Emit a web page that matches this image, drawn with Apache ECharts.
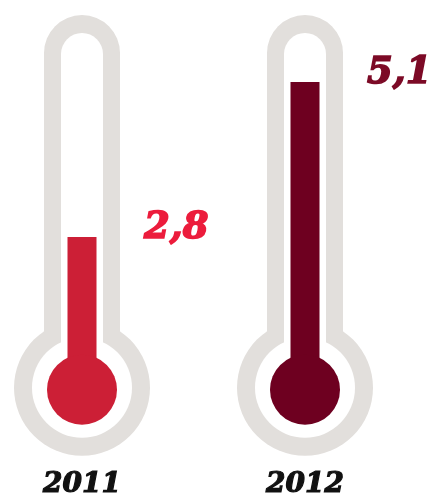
<!DOCTYPE html>
<html>
<head>
<meta charset="utf-8">
<script src="https://cdn.jsdelivr.net/npm/echarts@6/dist/echarts.min.js"></script>
<style>html,body{margin:0;padding:0;background:#fff;}#chart{width:431px;height:500px;}</style>
</head>
<body>
<div id="chart"></div>
<script>
const years = ['2011', '2012'];
const values = [2.8, 5.1];
const mercuryColors = ['#cc1f36', '#6e0020'];
const labelColors = ['#ec1c3c', '#7c0a26'];

const chart = echarts.init(document.getElementById('chart'));
const GRAY = '#e2dfdc';
const FONT = '"DejaVu Serif", "Liberation Serif", serif';

function renderItem(params, api) {
  const idx = api.value(0);
  const val = api.value(1);
  const base = api.coord([idx, 0]);
  const top = api.coord([idx, val]);
  const cx = base[0];
  const bulbY = base[1] - 38;
  const tubeTop = 15;
  const children = [
    { type: 'circle', shape: { cx: cx, cy: bulbY, r: 68 }, style: { fill: GRAY } },
    { type: 'rect', shape: { x: cx - 38, y: tubeTop, width: 76, height: bulbY - tubeTop, r: [38, 38, 0, 0] }, style: { fill: GRAY } },
    { type: 'circle', shape: { cx: cx, cy: bulbY, r: 50 }, style: { fill: '#fff' } },
    { type: 'rect', shape: { x: cx - 21, y: tubeTop + 18, width: 42, height: bulbY - tubeTop - 18, r: [21, 21, 0, 0] }, style: { fill: '#fff' } },
    { type: 'rect', shape: { x: cx - 14.5, y: top[1], width: 29, height: bulbY - top[1] }, style: { fill: mercuryColors[idx] } },
    { type: 'circle', shape: { cx: cx, cy: bulbY + 2, r: 35 }, style: { fill: mercuryColors[idx] } },
    { type: 'text', x: cx + 62, y: top[1] - 9, style: {
        text: val.toFixed(1).replace('.', ','), fill: labelColors[idx],
        stroke: labelColors[idx], lineWidth: 1.6,
        font: 'italic bold 37px ' + FONT, verticalAlign: 'middle', align: 'left' } }
  ];
  return { type: 'group', children: children };
}

chart.setOption({
  animation: false,
  grid: { left: 82, right: 126, top: 21.4, bottom: 74.3 },
  xAxis: {
    type: 'category', data: years, boundaryGap: false,
    axisLine: { show: false }, axisTick: { show: false }, splitLine: { show: false },
    axisLabel: { margin: 45, color: '#111', fontFamily: FONT, fontStyle: 'italic', fontWeight: 'bold', fontSize: 28, verticalAlign: 'top', textBorderColor: '#111', textBorderWidth: 1.2 }
  },
  yAxis: { type: 'value', min: 0, max: 6, show: false, splitLine: { show: false } },
  series: [{
    type: 'custom',
    renderItem: renderItem,
    data: values.map((v, i) => [i, v])
  }]
});
</script>
</body>
</html>
